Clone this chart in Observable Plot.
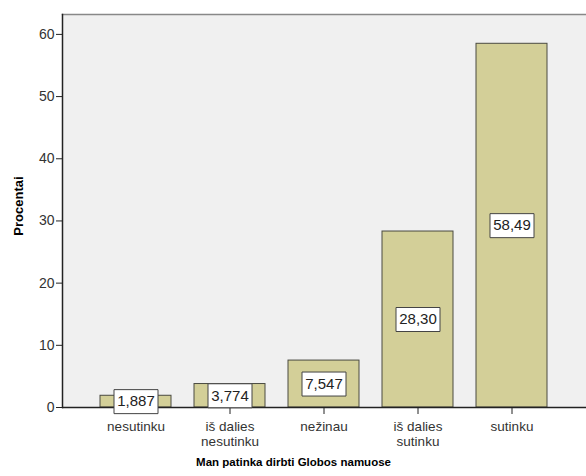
<!DOCTYPE html>
<html>
<head>
<meta charset="utf-8">
<script src="https://cdn.jsdelivr.net/npm/d3@7"></script>
<script src="https://cdn.jsdelivr.net/npm/@observablehq/plot@0.6"></script>
<style>
body { margin: 0; background: #fff; }
</style>
</head>
<body>
<div id="chart"></div>
<script>
const categories = ["nesutinku", "iš dalies nesutinku", "nežinau", "iš dalies sutinku", "sutinku"];
const tickLine1 = ["nesutinku", "iš dalies", "nežinau", "iš dalies", "sutinku"];
const tickLine2 = ["", "nesutinku", "", "sutinku", ""];
const values = [1.887, 3.774, 7.547, 28.30, 58.49];
const valueLabels = ["1,887", "3,774", "7,547", "28,30", "58,49"];
const yTicks = [0, 10, 20, 30, 40, 50, 60];
const xTitle = "Man patinka dirbti Globos namuose";
const yTitle = "Procentai";

const data = categories.map((c, i) => ({cat: c, value: values[i], label: valueLabels[i], l1: tickLine1[i], l2: tickLine2[i]}));

const boxSymbol = {
  draw(ctx) { ctx.rect(-22, -12, 44, 24); }
};

const chart = Plot.plot({
  width: 586,
  height: 476,
  marginLeft: 62,
  marginTop: 14,
  marginRight: 0,
  marginBottom: 69,
  style: {fontFamily: "Liberation Sans, Arial, sans-serif", fontSize: "14px", color: "#333", background: "#fff"},
  x: {domain: categories, paddingInner: 0.24, paddingOuter: 0.38, label: null},
  y: {domain: [0, 63.2], label: null},
  marks: [
    Plot.frame({fill: "#f0f0f0", stroke: null}),
    Plot.frame({anchor: "top", stroke: "#888", strokeWidth: 1.5}),
    Plot.barY(data, {x: "cat", y: "value", fill: "#d3cf98", stroke: "#4a4a40", strokeWidth: 1}),
    Plot.ruleY([0], {stroke: "#222", strokeWidth: 1.5}),
    Plot.axisY({ticks: yTicks, tickSize: 6, tickPadding: 2, label: null, stroke: "#222", fontSize: 14}),
    Plot.frame({anchor: "left", stroke: "#222", strokeWidth: 1.5}),
    Plot.axisX({tickSize: 7, text: null, label: null, stroke: "#222"}),
    Plot.text(data, {x: "cat", text: "l1", frameAnchor: "bottom", lineAnchor: "top", dy: 14, fontSize: 13.5, fill: "#333"}),
    Plot.text(data, {x: "cat", text: "l2", frameAnchor: "bottom", lineAnchor: "top", dy: 29, fontSize: 13.5, fill: "#333"}),
    Plot.dot(data, {x: "cat", y: d => d.value / 2, symbol: boxSymbol, fill: "white", stroke: "#444", strokeWidth: 1, r: 5}),
    Plot.text(data, {x: "cat", y: d => d.value / 2, text: "label", fill: "#222", fontSize: 15}),
    Plot.text([yTitle], {frameAnchor: "left", textAnchor: "middle", dx: -44, dy: -5, rotate: -90, fontWeight: "bold", fontSize: 13, fill: "#000"}),
    Plot.text([xTitle], {frameAnchor: "bottom", dx: -31, dy: 58, fontWeight: "bold", fontSize: 11.5, fill: "#000"})
  ]
});
document.getElementById("chart").appendChild(chart);
</script>
</body>
</html>
